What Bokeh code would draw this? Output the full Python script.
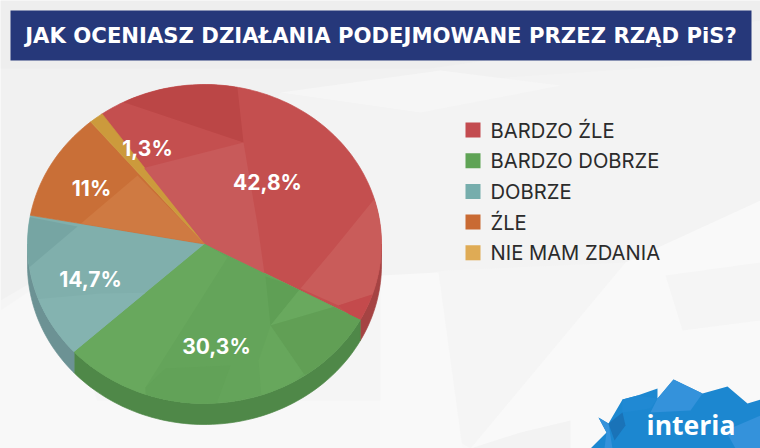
import math
from bokeh.plotting import figure
from bokeh.models import Range1d
from bokeh.core.properties import value
from bokeh.embed import file_html
from bokeh.resources import INLINE

title_text = "JAK OCENIASZ DZIAŁANIA PODEJMOWANE PRZEZ RZĄD PiS?"
categories = ["BARDZO ŹLE", "BARDZO DOBRZE", "DOBRZE", "ŹLE", "NIE MAM ZDANIA"]
shares = [42.8, 30.3, 14.7, 11.0, 1.3]
share_labels = ["42,8%", "30,3%", "14,7%", "11%", "1,3%"]
legend_colors = ["#c34b4f", "#5fa355", "#76adac", "#c96a33", "#dfab55"]
face_colors = ["#c44f4f", "#64a45a", "#80afac", "#c96f37", "#cc9a3c"]
wall_colors = ["#a54343", "#4f8848", "#6c9294", "#a85a2c", "#aa8032"]

CX, CY, RX, RY, DEPTH = 204.0, 243.5, 177.0, 159.5, 21.0
START = -35.7
LABEL_POS = [(267, 182), (216, 346), (90, 279), (91, 188), (147, 148)]


def pt(t, dy=0.0):
    a = math.radians(t)
    return (CX + RX * math.sin(a), CY - RY * math.cos(a) + dy)


def arc(a, b, dy=0.0):
    n = max(2, int(abs(b - a) / 1.5) + 1)
    return [pt(a + (b - a) * i / (n - 1), dy) for i in range(n)]


def clip(poly, win):
    out = poly
    m = len(win)
    for i in range(m):
        ax, ay = win[i]
        bx, by = win[(i + 1) % m]
        if abs(ax - bx) + abs(ay - by) < 1e-9:
            continue
        inside = lambda p: (bx - ax) * (p[1] - ay) - (by - ay) * (p[0] - ax) >= -1e-9
        res = []
        for j in range(len(out)):
            c, d = out[j], out[(j + 1) % len(out)]
            ic, id_ = inside(c), inside(d)
            if ic:
                res.append(c)
            if ic != id_:
                d1 = (bx - ax) * (c[1] - ay) - (by - ay) * (c[0] - ax)
                d2 = (bx - ax) * (d[1] - ay) - (by - ay) * (d[0] - ax)
                s = d1 / (d1 - d2)
                res.append((c[0] + (d[0] - c[0]) * s, c[1] + (d[1] - c[1]) * s))
        out = res
        if not out:
            break
    return out


p = figure(width=760, height=448, output_backend="svg", toolbar_location=None,
           x_range=Range1d(0, 760), y_range=Range1d(448, 0), min_border=0,
           outline_line_color=None, background_fill_color="#f1f1f1",
           border_fill_color="#f1f1f1")
p.axis.visible = False
p.grid.visible = False


def poly(points, color, seam=False):
    p.patch([q[0] for q in points], [q[1] for q in points], fill_color=color,
            line_color=color if seam else None, line_width=0.7)


# background low-poly
BG = [
    ("#f3f3f3", [(280, 92), (760, 60), (760, 300), (640, 260), (470, 448), (230, 448), (170, 280)]),
    ("#f5f5f5", [(0, 300), (60, 265), (170, 280), (380, 280), (445, 270), (625, 262), (470, 448), (0, 448)]),
    ("#f6f6f6", [(280, 92), (440, 70), (560, 85), (420, 112)]),
    ("#f8f8f8", [(0, 310), (60, 270), (110, 448), (0, 448)]),
    ("#f8f8f8", [(110, 448), (90, 400), (390, 400), (470, 448)]),
    ("#f9f9f9", [(380, 275), (438, 272), (462, 448), (380, 448)]),
    ("#f9f9f9", [(470, 448), (625, 262), (760, 200), (760, 448)]),
    ("#f5f5f5", [(665, 275), (760, 262), (760, 320), (682, 330)]),
    ("#eeeeee", [(0, 0), (760, 0), (760, 20), (430, 68), (0, 68)]),
    ("#f3f3f3", [(570, 448), (470, 448), (520, 432), (570, 420)]),
]
for col, pts in BG:
    poly(pts, col)

# title bar
p.quad(left=[10], right=[751], top=[10], bottom=[60], fill_color="#26387a", line_color=None)
p.text([380.5], [35], text=[title_text], text_color="#ffffff", text_font=value("DejaVu Sans"),
       text_font_style="bold", text_font_size="21.2px", text_align="center", text_baseline="middle")

# pie
angles = [START]
scale = 360.0 / 100.0
for s in shares:
    angles.append(angles[-1] + s * scale)

for i in range(len(shares)):
    a, b = max(angles[i], 90.0), min(angles[i + 1], 270.0)
    if b > a:
        top = arc(a, b)
        bot = arc(a, b, DEPTH)
        poly(top + bot[::-1], wall_colors[i], seam=True)

windows = []
for i in range(len(shares)):
    w = [(CX, CY)] + arc(angles[i], angles[i + 1])
    windows.append(w)
    poly(w, face_colors[i], seam=True)

FACETS = [
    (0, "#bb4646", [(95, 95), (127, 103), (243, 142), (235, 70), (100, 70)]),
    (0, "#c85a5a", [(125, 185), (145, 167), (243, 142), (257, 224), (265, 280), (204, 243)]),
    (0, "#c95c5a", [(375, 197), (332, 250), (300, 288), (338, 305), (372, 294), (395, 260), (395, 197)]),
    (0, "#c44a4c", [(338, 305), (372, 294), (362, 325)]),
    (1, "#68a85d", [(204, 243), (227, 257), (145, 387), (148, 420), (60, 360)]),
    (1, "#5f9f55", [(265, 276), (300, 288), (270, 325)]),
    (1, "#69a95e", [(300, 288), (338, 305), (270, 325)]),
    (1, "#619f55", [(338, 305), (370, 320), (330, 390), (303, 373), (270, 325)]),
    (1, "#67a75c", [(270, 325), (303, 373), (262, 410), (258, 360)]),
    (1, "#62a258", [(145, 387), (165, 368), (230, 365), (210, 420), (145, 420)]),
    (2, "#76a5a3", [(20, 215), (77, 226), (25, 270)]),
    (2, "#84b3b0", [(20, 300), (100, 293), (170, 292), (90, 360), (20, 360)]),
    (3, "#cf7a42", [(77, 226), (137, 175), (204, 243)]),
]
for idx, col, pts in FACETS:
    c = clip(pts, windows[idx])
    if len(c) > 2:
        poly(c, col)

# value labels
p.text([q[0] for q in LABEL_POS], [q[1] for q in LABEL_POS], text=share_labels, text_color="#ffffff",
       text_font=value("Inter"), text_font_style="bold", text_font_size="21px",
       text_align="center", text_baseline="middle")

# legend
LEG_X, LEG_Y, LEG_STEP = 472.5, 129.5, 30.7
ys = [LEG_Y + LEG_STEP * i for i in range(len(categories))]
p.rect([LEG_X] * len(ys), ys, width=15, height=15, fill_color=legend_colors, line_color=None)
p.text([490] * len(ys), ys, text=categories, text_color="#2b2b2b",
       text_font=value("Inter"), text_font_size="20.2px", text_align="left", text_baseline="middle")

# logo
poly([(590, 448), (606, 432), (598, 417), (608, 423), (622, 399), (637, 395), (657, 388), (657, 398),
      (673, 379), (702, 393), (727, 386), (747, 403), (760, 399), (760, 448)], "#1c87d0")
poly([(657, 398), (673, 379), (702, 393), (690, 410), (650, 412)], "#3492db")
poly([(622, 399), (637, 395), (657, 398), (650, 408), (622, 412)], "#2089d3")
poly([(606, 432), (598, 417), (608, 423), (612, 448), (604, 448)], "#3492db")
poly([(622, 412), (625, 425), (614, 440), (608, 423)], "#1a73b8")
poly([(725, 430), (760, 415), (760, 448), (735, 448)], "#3492db")
p.text([690.5], [424], text=["interia"], text_color="#ffffff", text_font=value("Open Sans"),
       text_font_style="bold", text_font_size="26.5px", text_align="center", text_baseline="middle")

open("out.html", "w").write(file_html(p, INLINE))
